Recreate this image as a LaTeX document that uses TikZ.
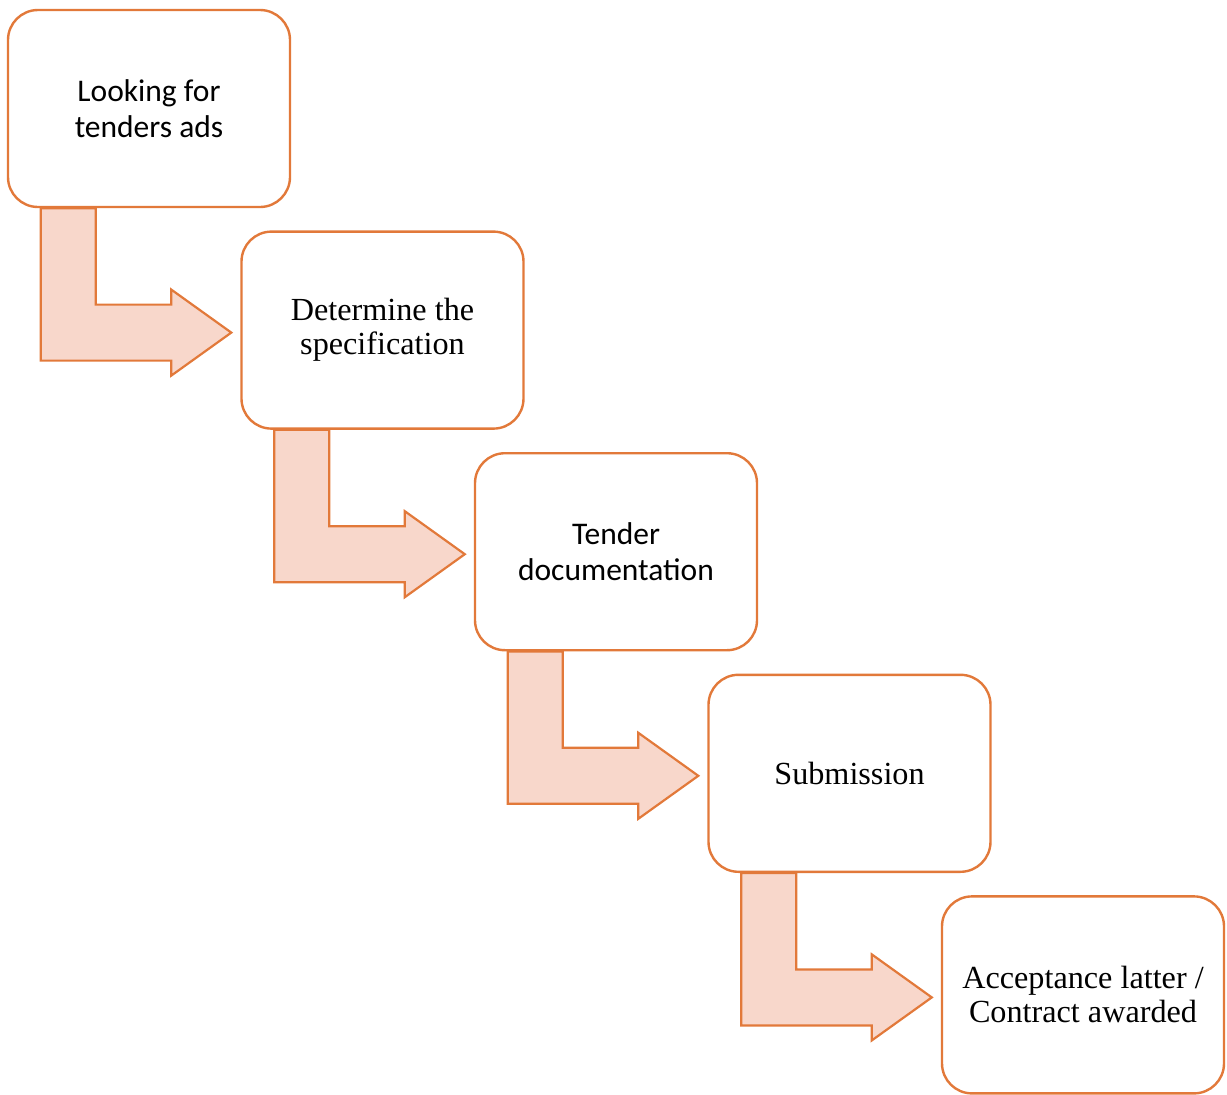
\documentclass[tikz,border=0pt]{standalone}
\usepackage{fontspec}
\setmainfont{Liberation Serif}
\newfontfamily\calibri{Carlito}
\usetikzlibrary{calc,backgrounds}
\definecolor{boxline}{HTML}{E2793A}
\definecolor{arrowfill}{HTML}{F8D7CB}
\tikzset{
  stepbox/.style={draw=boxline, line width=2.4pt, fill=white, rounded corners=30pt,
    minimum width=282pt, minimum height=197pt, align=center, text=black, inner sep=0pt},
  sanslbl/.style={font=\calibri\fontsize{31.5}{36}\selectfont},
  seriflbl/.style={font=\fontsize{32.2}{34}\selectfont},
  bentarrow/.style={draw=boxline, fill=arrowfill, line width=2.2pt, line join=miter}
}
\newcommand{\bentarr}[2]{%
  \path[bentarrow] let \p1=(#1.south west), \p2=($(#2.west)+(0,2.5)$) in
    (\x1+34pt,\y1) -- (\x1+89pt,\y1) -- (\x1+89pt,\y2+28pt) -- (\x2-69pt,\y2+28pt)
    -- (\x2-69pt,\y2+43pt) -- (\x2-9pt,\y2) -- (\x2-69pt,\y2-43pt)
    -- (\x2-69pt,\y2-28pt) -- (\x1+34pt,\y2-28pt) -- cycle;}
\begin{document}
\begin{tikzpicture}[x=1pt,y=-1pt]
\useasboundingbox (0,0) rectangle (1227,1095);
\node[stepbox,sanslbl]  (b1) at (149,108.5) {Looking for\\tenders ads};
\node[stepbox,seriflbl] (b2) at (382.5,330.1) {Determine the\\specification};
\node[stepbox,sanslbl]  (b3) at (616,551.7) {Tender\\documentation};
\node[stepbox,seriflbl] (b4) at (849.5,773.3) {Submission};
\node[stepbox,seriflbl] (b5) at (1083,994.9) {Acceptance latter /\\Contract awarded};
\begin{scope}[on background layer]
\bentarr{b1}{b2}
\bentarr{b2}{b3}
\bentarr{b3}{b4}
\bentarr{b4}{b5}
\end{scope}
\end{tikzpicture}
\end{document}
